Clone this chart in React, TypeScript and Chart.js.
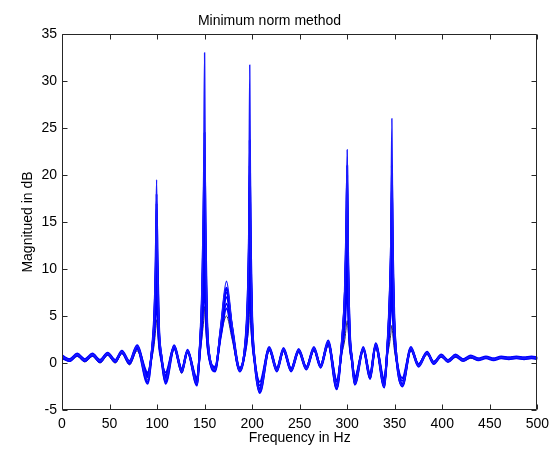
import React, { useEffect, useRef } from 'react';
import { Chart, registerables } from 'chart.js';

Chart.register(...registerables);

const TITLE = 'Minimum norm method';
const X_LABEL = 'Frequency in Hz';
const Y_LABEL = 'Magnitued in dB';

const X_TICKS = [0, 50, 100, 150, 200, 250, 300, 350, 400, 450, 500];
const Y_TICKS = [-5, 0, 5, 10, 15, 20, 25, 30, 35];

// Frequency grid (Hz)
const FREQ = [
  0, 8, 16, 24, 32, 40, 48, 56, 63, 71, 79,
  90, 94.5, 97, 98.5, 99.5, 100.5, 102, 104.5, 109,
  118, 126, 132, 142,
  145, 147.5, 149, 150, 151, 152.5, 155, 161,
  167, 173, 179, 187,
  192, 195, 196.5, 197.5, 198.5, 200, 202.5, 208,
  218, 226, 233, 241, 249, 257, 265, 272, 280, 289,
  294, 297.5, 299, 300, 301, 302.5, 305, 308,
  317, 324, 330, 339,
  342, 344.5, 346, 347, 348, 349.5, 352, 358,
  367, 375, 384, 391, 399, 406, 414, 422, 430, 438, 446, 454, 462, 470, 478, 486, 494, 500,
];

// Magnitude (dB) of each trial
const RUN_1 = [
  0.7, 0.3, 0.9, 0.3, 0.9, 0.2, 1.0, 0.2, 1.2, 0.1, 1.8,
  -1.8, 1.5, 5, 11, 19.5, 10, 4, 1, -1.8,
  1.8, -0.9, 1.3, -2.2,
  2, 9, 20, 33, 15, 5, 1, -0.7,
  4, 8.7, 4, -0.8,
  1.5, 6, 14, 31.7, 14, 5, 0.5, -3.0,
  1.6, -0.8, 1.5, -0.8, 1.4, -0.6, 1.6, -0.4, 2.3, -2.6,
  2, 8, 15, 22.7, 12, 4, 0.5, -2.2,
  1.6, -1.5, 2.0, -2.5,
  1.5, 7, 14, 26, 13, 5, 0.5, -2.4,
  1.6, -0.3, 1.1, 0.0, 0.8, 0.2, 0.8, 0.3, 0.7, 0.4, 0.6, 0.4, 0.6, 0.5, 0.6, 0.5, 0.6, 0.5,
];
const RUN_2 = [
  0.5, 0.2, 0.8, 0.2, 0.8, 0.1, 0.9, 0.1, 1.1, -0.1, 1.6,
  -2.2, 1.0, 4, 9, 18, 9, 3, 0.5, -2.2,
  1.6, -1.0, 1.2, -2.4,
  1.5, 7, 15, 24.5, 12, 4, 0.6, -0.9,
  3.5, 7.8, 3.5, -0.9,
  1.0, 5, 11, 23.7, 11, 4, 0.2, -3.2,
  1.4, -0.9, 1.3, -0.9, 1.2, -0.7, 1.4, -0.5, 2.0, -2.8,
  1.5, 7, 13, 21, 10, 3.5, 0.2, -2.3,
  1.4, -1.7, 1.8, -2.6,
  1.0, 6, 11, 21, 11, 4, 0.2, -2.5,
  1.4, -0.4, 1.0, -0.1, 0.7, 0.1, 0.7, 0.2, 0.6, 0.3, 0.5, 0.3, 0.5, 0.4, 0.5, 0.4, 0.5, 0.4,
];
const RUN_3 = [
  0.8, 0.4, 1.0, 0.4, 1.0, 0.3, 1.1, 0.3, 1.3, 0.2, 1.9,
  -1.5, 1.2, 4, 8, 15, 8, 3, 0.8, -1.5,
  1.9, -0.7, 1.4, -2.0,
  1.6, 6, 13, 20, 10, 4, 0.8, -0.5,
  3.2, 7.0, 3.8, -0.6,
  1.2, 5, 10, 20, 10, 4, 0.6, -2.7,
  1.7, -0.6, 1.6, -0.6, 1.5, -0.5, 1.7, -0.3, 2.4, -2.3,
  1.5, 6, 12, 18, 9, 3, 0.6, -1.9,
  1.7, -1.3, 2.1, -2.2,
  1.2, 5, 10, 17, 9, 4, 0.6, -2.2,
  1.7, -0.2, 1.2, 0.1, 0.9, 0.3, 0.9, 0.4, 0.8, 0.5, 0.7, 0.5, 0.7, 0.6, 0.7, 0.6, 0.7, 0.6,
];
const RUN_4 = [
  0.6, 0.3, 0.8, 0.3, 0.8, 0.2, 0.9, 0.2, 1.1, 0.0, 1.5,
  -1.2, 1.0, 3.5, 7, 13, 7, 2.5, 0.5, -1.3,
  1.5, -0.6, 1.1, -1.8,
  1.2, 5, 10, 15, 8, 3, 0.6, -0.4,
  3.0, 6.3, 3.2, -0.5,
  1.0, 4, 8, 15, 8, 3, 0.4, -2.4,
  1.4, -0.5, 1.3, -0.6, 1.3, -0.4, 1.4, -0.2, 2.0, -2.0,
  1.2, 5, 9, 14, 7, 2.5, 0.3, -1.7,
  1.4, -1.1, 1.7, -2.0,
  1.0, 4, 8, 12, 7, 3, 0.3, -1.9,
  1.4, -0.1, 1.0, 0.1, 0.7, 0.3, 0.7, 0.4, 0.6, 0.4, 0.6, 0.4, 0.6, 0.5, 0.6, 0.5, 0.6, 0.5,
];
const RUN_5 = [
  0.7, 0.3, 0.9, 0.3, 0.9, 0.3, 1.0, 0.2, 1.2, 0.1, 1.7,
  -1.0, 0.8, 3, 5.5, 9, 5, 2, 0.3, -1.0,
  1.7, -0.8, 1.2, -1.6,
  1.0, 4, 7, 11, 6, 2.5, 0.4, -0.6,
  2.8, 5.8, 3.0, -0.7,
  0.8, 3, 6, 11, 6, 2.5, 0.2, -2.0,
  1.5, -0.7, 1.4, -0.7, 1.3, -0.5, 1.5, -0.3, 2.1, -1.8,
  1.0, 4, 7, 10, 5.5, 2, 0.2, -1.5,
  1.5, -1.4, 1.9, -1.7,
  0.8, 3.5, 6, 9, 5, 2.5, 0.3, -1.6,
  1.5, -0.2, 1.1, 0.0, 0.8, 0.2, 0.8, 0.3, 0.7, 0.4, 0.6, 0.4, 0.6, 0.5, 0.6, 0.5, 0.6, 0.5,
];
const RUN_6 = [
  0.5, 0.2, 0.7, 0.1, 0.7, 0.0, 0.8, 0.0, 1.0, -0.2, 1.3,
  -1.6, 0.5, 2, 3.5, 4.6, 3.5, 1.8, 0.2, -1.9,
  1.5, -1.1, 1.1, -2.3,
  0.8, 3, 4.5, 6, 4, 2, 0.3, -0.8,
  2.8, 5.0, 2.5, -0.9,
  0.6, 2.5, 4, 6, 4, 2, 0, -3.0,
  1.3, -0.9, 1.2, -0.9, 1.1, -0.7, 1.3, -0.5, 1.8, -2.8,
  0.8, 2.5, 3.8, 4.5, 3.5, 1.5, 0, -2.3,
  1.3, -1.7, 1.6, -2.6,
  0.6, 2, 3.2, 4, 3, 1.5, 0, -2.5,
  1.3, -0.3, 0.9, -0.1, 0.6, 0.1, 0.6, 0.2, 0.5, 0.3, 0.5, 0.3, 0.5, 0.4, 0.5, 0.4, 0.5, 0.4,
];
const RUN_7 = [
  0.6, 0.2, 0.9, 0.2, 0.9, 0.1, 1.0, 0.1, 1.2, 0.0, 1.7,
  -2.0, 1.3, 5, 10, 17, 11, 4, 0.8, -2.0,
  1.7, -0.9, 1.3, -2.3,
  1.8, 8, 16, 22, 14, 5, 0.8, -0.8,
  3.6, 8.0, 3.6, -0.8,
  1.3, 6, 12, 21, 13, 5, 0.4, -3.1,
  1.5, -0.8, 1.4, -0.8, 1.3, -0.6, 1.5, -0.4, 2.2, -2.7,
  1.8, 7.5, 14, 20, 11, 4, 0.4, -2.2,
  1.5, -1.6, 1.9, -2.5,
  1.3, 6.5, 12, 19, 12, 5, 0.4, -2.4,
  1.5, -0.3, 1.1, 0.0, 0.8, 0.2, 0.8, 0.3, 0.7, 0.4, 0.6, 0.4, 0.6, 0.5, 0.6, 0.5, 0.6, 0.5,
];
const RUN_8 = [
  0.7, 0.4, 0.9, 0.4, 0.9, 0.3, 1.0, 0.3, 1.2, 0.1, 1.8,
  -1.4, 1.2, 4.5, 9, 12, 9.5, 3.5, 0.7, -1.6,
  1.8, -0.8, 1.3, -2.1,
  1.6, 7, 13, 17, 12, 4.5, 0.7, -0.6,
  3.3, 7.5, 3.6, -0.7,
  1.2, 5.5, 11, 17, 11, 4.5, 0.5, -2.8,
  1.6, -0.7, 1.5, -0.7, 1.4, -0.5, 1.6, -0.3, 2.2, -2.4,
  1.6, 7, 12, 16, 10, 3.5, 0.5, -2.0,
  1.6, -1.4, 2.0, -2.3,
  1.2, 6, 11, 14, 10, 4.5, 0.5, -2.3,
  1.6, -0.2, 1.1, 0.1, 0.8, 0.3, 0.8, 0.4, 0.7, 0.4, 0.6, 0.4, 0.6, 0.5, 0.6, 0.5, 0.6, 0.5,
];

const RUNS = [RUN_1, RUN_2, RUN_3, RUN_4, RUN_5, RUN_7, RUN_8, RUN_6];
const RUN_COLORS = ['#1a1aff', '#0000ff', '#0000ff', '#0000ff', '#0000ff', '#0000ff', '#0000ff', '#2a2a55'];
const RUN_WIDTHS = [1.4, 2, 2, 2, 2, 2, 2, 1];

const FONT = { family: '"Liberation Sans", Arial, sans-serif', size: 14, lineHeight: 1.2 };
const AXIS_COLOR = '#262626';

const boxPlugin = {
  id: 'matlabBox',
  afterDraw(chart: any) {
    const { ctx, chartArea: a, scales } = chart;
    const L = 5;
    ctx.save();
    ctx.strokeStyle = AXIS_COLOR;
    ctx.lineWidth = 1;
    ctx.beginPath();
    const left = Math.round(a.left) + 0.5;
    const right = Math.round(a.right) - 0.5;
    const top = Math.round(a.top) + 0.5;
    const bottom = Math.round(a.bottom) - 0.5;
    ctx.rect(left, top, right - left, bottom - top);
    X_TICKS.forEach((v) => {
      const px = Math.round(scales.x.getPixelForValue(v)) + 0.5;
      ctx.moveTo(px, bottom);
      ctx.lineTo(px, bottom - L);
      ctx.moveTo(px, top);
      ctx.lineTo(px, top + L);
    });
    Y_TICKS.forEach((v) => {
      const py = Math.round(scales.y.getPixelForValue(v)) + 0.5;
      ctx.moveTo(left, py);
      ctx.lineTo(left + L, py);
      ctx.moveTo(right, py);
      ctx.lineTo(right - L, py);
    });
    ctx.stroke();
    ctx.restore();
  },
};

export default function App() {
  const ref = useRef<HTMLCanvasElement | null>(null);

  useEffect(() => {
    if (!ref.current) return;
    const datasets = RUNS.map((run, i) => ({
      label: `run ${i + 1}`,
      data: FREQ.map((f, k) => ({ x: f, y: run[k] })),
      borderColor: RUN_COLORS[i],
      backgroundColor: RUN_COLORS[i],
      borderWidth: RUN_WIDTHS[i],
      pointRadius: 0,
      fill: false,
      cubicInterpolationMode: 'monotone' as const,
      borderJoinStyle: 'round' as const,
    }));
    const chart = new Chart(ref.current, {
      type: 'line',
      data: { datasets },
      options: {
        animation: false,
        responsive: false,
        devicePixelRatio: 1,
        layout: { padding: { left: 0, right: 16, top: 0, bottom: 0 } },
        plugins: {
          legend: { display: false },
          tooltip: { enabled: false },
          title: {
            display: true,
            text: TITLE,
            color: '#000',
            font: { ...FONT, weight: 'normal' },
            padding: { top: 13, bottom: 4.2 },
          },
        },
        scales: {
          x: {
            type: 'linear',
            min: 0,
            max: 500,
            grid: { display: false, drawTicks: false },
            border: { display: false },
            afterBuildTicks: (s: any) => {
              s.ticks = X_TICKS.map((v) => ({ value: v }));
            },
            afterFit: (s: any) => {
              s.height = 40;
            },
            ticks: {
              color: '#000',
              font: FONT,
              padding: 6,
              maxRotation: 0,
              autoSkip: false,
            },
            title: {
              display: true,
              text: X_LABEL,
              color: '#000',
              font: FONT,
              padding: { top: 0, bottom: 3 },
            },
          },
          y: {
            type: 'linear',
            min: -5,
            max: 35,
            grid: { display: false, drawTicks: false },
            border: { display: false },
            afterBuildTicks: (s: any) => {
              s.ticks = Y_TICKS.map((v) => ({ value: v }));
            },
            afterFit: (s: any) => {
              s.width = 62;
            },
            ticks: {
              color: '#000',
              font: FONT,
              padding: 5,
              autoSkip: false,
            },
            title: {
              display: true,
              text: Y_LABEL,
              color: '#000',
              font: FONT,
              padding: { top: 19.6, bottom: 0 },
            },
          },
        },
      },
      plugins: [boxPlugin],
    });
    return () => chart.destroy();
  }, []);

  return (
    <div style={{ position: 'absolute', left: 0, top: 0, width: 555, height: 450, background: '#fff' }}>
      <canvas ref={ref} width={555} height={450} style={{ display: 'block' }} />
    </div>
  );
}
